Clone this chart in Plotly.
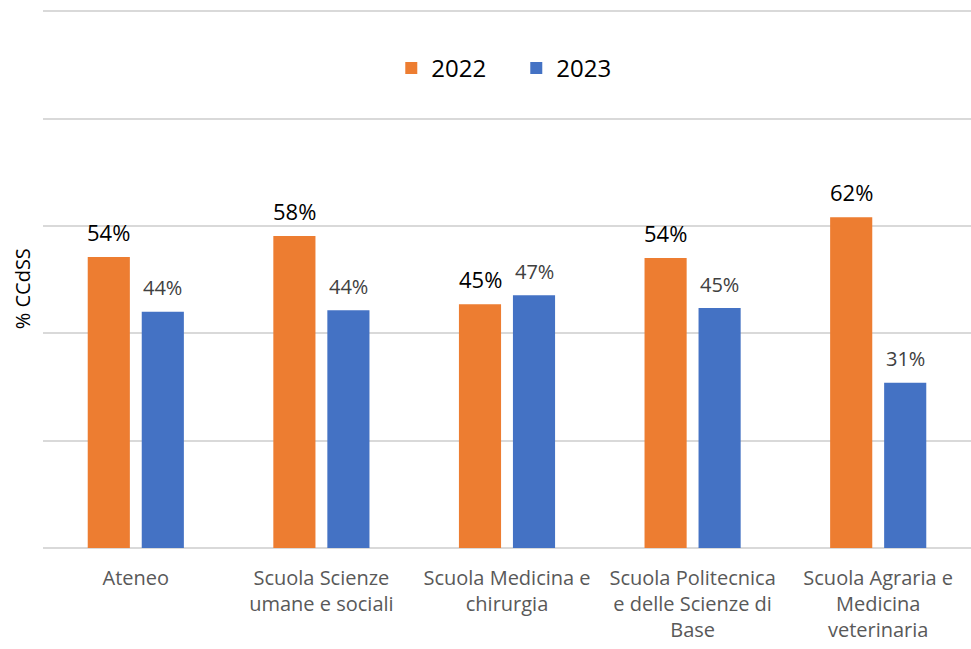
import plotly.graph_objects as go

# data
categories = [
    "Ateneo",
    "Scuola Scienze<br>umane e sociali",
    "Scuola Medicina e<br>chirurgia",
    "Scuola Politecnica<br>e delle Scienze di<br>Base",
    "Scuola Agraria e<br>Medicina<br>veterinaria",
]
years = ["2022", "2023"]
values_2022 = [54.2, 58.1, 45.4, 54.0, 61.6]
values_2023 = [44.0, 44.3, 47.1, 44.7, 30.8]

ORANGE = "#ED7D31"
BLUE = "#4472C4"
FONT = "Open Sans"

fig = go.Figure()
fig.add_trace(go.Bar(name=years[0], x=categories, y=values_2022,
                     marker=dict(color=ORANGE, line=dict(width=0))))
fig.add_trace(go.Bar(name=years[1], x=categories, y=values_2023,
                     marker=dict(color=BLUE, line=dict(width=0))))

# value labels above bars
annotations = []
for cat, v in zip(categories, values_2022):
    annotations.append(dict(
        x=cat, y=v, xref="x", yref="y", text=f"{v:.0f}%", showarrow=False,
        xshift=-27, yshift=25, yanchor="middle",
        font=dict(family=FONT, size=22, color="#000000"),
    ))
for cat, v in zip(categories, values_2023):
    annotations.append(dict(
        x=cat, y=v, xref="x", yref="y", text=f"{v:.0f}%", showarrow=False,
        xshift=27, yshift=24, yanchor="middle",
        font=dict(family=FONT, size=20, color="#404040"),
    ))

# y axis title
annotations.append(dict(
    x=0, y=0.48, xref="paper", yref="paper", text="% CCdSS", showarrow=False,
    textangle=-90, xshift=-21, xanchor="center", yanchor="middle",
    font=dict(family=FONT, size=20, color="#000000"),
))

fig.update_layout(
    width=971, height=649,
    barmode="group",
    bargap=0.418,
    bargroupgap=0.22,
    plot_bgcolor="#ffffff",
    paper_bgcolor="#ffffff",
    font=dict(family=FONT, size=18, color="#595959"),
    margin=dict(l=43, r=0, t=9, b=101, autoexpand=False),
    showlegend=True,
    legend=dict(
        orientation="h", x=0.510, xanchor="center", y=0.89, yanchor="middle",
        font=dict(family=FONT, size=24, color="#000000"),
        bgcolor="rgba(0,0,0,0)",
        entrywidth=80, entrywidthmode="pixels",
    ),
    annotations=annotations,
    xaxis=dict(
        showgrid=False, showline=False, ticks="",
        tickfont=dict(family=FONT, size=20, color="#595959"),
        ticklabelstandoff=16,
    ),
    yaxis=dict(
        range=[0, 100.4], dtick=20, showticklabels=False,
        showgrid=True, gridcolor="#d9d9d9", gridwidth=1.5,
        zeroline=True, zerolinecolor="#d9d9d9", zerolinewidth=1.5,
        showline=False, ticks="",
    ),
)

fig.write_html("out.html", config={"displayModeBar": False},
               post_script="document.body.style.margin='0';")
